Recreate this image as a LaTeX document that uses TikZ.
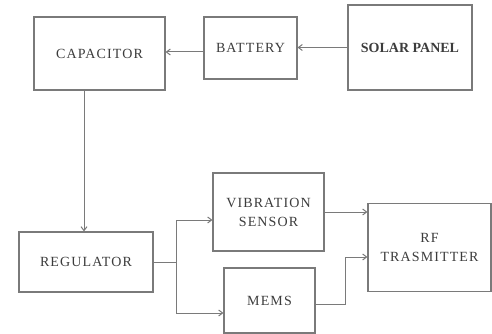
\documentclass[tikz,border=0pt]{standalone}
\usepackage{fontspec}
\setmainfont{Liberation Serif}
\usetikzlibrary{arrows.meta}
\definecolor{ln}{HTML}{7A7A7A}
\definecolor{tx}{HTML}{3C3C3C}
\begin{document}
\begin{tikzpicture}[x=1pt,y=-1pt,
  box/.style={draw=ln,line width=1.1pt,rectangle,inner sep=0pt,align=center,
    text=tx,font=\fontsize{14}{19}\selectfont\addfontfeatures{LetterSpace=8}},
  arr/.style={draw=ln,line width=1pt,-{Straight Barb[length=4pt,width=6pt]}},
  ln/.style={draw=ln,line width=1pt}]
\useasboundingbox (0,0) rectangle (492,334);
\node[box,minimum width=131pt,minimum height=73pt] (cap) at (99.5,53.5) {CAPACITOR};
\node[box,minimum width=93pt,minimum height=62pt] (bat) at (250.5,48) {BATTERY};
\node[box,minimum width=124pt,minimum height=85pt,font=\fontsize{14}{15}\selectfont\bfseries] (sol) at (410,47.5) {SOLAR PANEL};
\node[box,minimum width=134pt,minimum height=60pt] (reg) at (86,262) {REGULATOR};
\node[box,minimum width=111pt,minimum height=78pt] (vib) at (268.5,212) {VIBRATION\\SENSOR};
\node[box,minimum width=91pt,minimum height=65pt] (mems) at (269.5,300.5) {MEMS};
\node[box,minimum width=123pt,minimum height=88pt] (rf) at (429.5,247.5) {RF\\TRASMITTER};
\coordinate (split) at (176,262);
\coordinate (bend) at (345,304);
\draw[arr] (sol.west) -- (sol.west -| bat.east);
\draw[arr] ([yshift=-4pt]bat.west) -- ([yshift=-4pt]bat.west -| cap.east);
\draw[arr] ([xshift=-15.5pt]cap.south) -- ([xshift=-15.5pt]cap.south |- reg.north);
\draw[ln] (reg.east) -- (split);
\draw[arr] (split) |- ([yshift=-8pt]vib.west);
\draw[arr] (split) |- ([yshift=-12.5pt]mems.west);
\draw[arr] (vib.east) -- (vib.east -| rf.west);
\draw[arr] (mems.east |- bend) -- (bend) |- ([yshift=-9.5pt]rf.west);
\end{tikzpicture}
\end{document}
